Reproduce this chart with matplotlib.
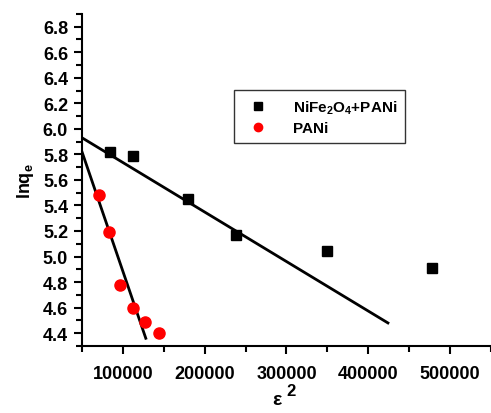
import matplotlib
matplotlib.use('Agg')
import matplotlib.pyplot as plt
from matplotlib.ticker import MultipleLocator

plt.rcParams['font.family'] = ['Liberation Sans', 'DejaVu Sans']
plt.rcParams['font.weight'] = 'bold'
plt.rcParams['mathtext.fontset'] = 'custom'
plt.rcParams['mathtext.bf'] = 'Liberation Sans:bold'
plt.rcParams['mathtext.rm'] = 'Liberation Sans:bold'

# NiFe2O4+PANi points
NIFE_X = [84000, 112000, 179000, 238000, 350000, 478000]
NIFE_Y = [5.82, 5.79, 5.45, 5.17, 5.04, 4.91]
# fitted line end points
NIFE_FIT_X = [50000, 424000]
NIFE_FIT_Y = [5.93, 4.48]

# PANi points
PANI_X = [71000, 83000, 97000, 112000, 127000, 144000]
PANI_Y = [5.48, 5.19, 4.78, 4.60, 4.49, 4.40]
PANI_FIT_X = [50000, 128000]
PANI_FIT_Y = [5.82, 4.36]

fig = plt.figure(figsize=(4.91, 4.14), dpi=100)
ax = fig.add_axes([0.167, 0.162, 0.833, 0.802])

ax.plot(NIFE_FIT_X, NIFE_FIT_Y, color='black', lw=2)
ax.plot(PANI_FIT_X, PANI_FIT_Y, color='black', lw=2)
ax.plot(NIFE_X, NIFE_Y, 's', color='black', ms=7.5, label='NiFe$_\\mathbf{2}$O$_\\mathbf{4}$+PANi')
ax.plot(PANI_X, PANI_Y, 'o', color='red', mec='red', ms=8, label='PANi')

ax.set_xlim(50000, 550000)
ax.set_ylim(4.3, 6.9)
ax.xaxis.set_major_locator(MultipleLocator(100000))
ax.xaxis.set_minor_locator(MultipleLocator(50000))
ax.yaxis.set_major_locator(MultipleLocator(0.2))
ax.yaxis.set_minor_locator(MultipleLocator(0.1))
ax.tick_params(which='major', direction='out', length=6, width=1.5, labelsize=13)
ax.tick_params(which='minor', direction='out', length=4, width=1.5)
ax.tick_params(axis='x', pad=8)
ax.tick_params(axis='y', pad=4)

for side in ['top', 'right']:
    ax.spines[side].set_visible(False)
for side in ['left', 'bottom']:
    ax.spines[side].set_linewidth(1.5)

for lab in ax.get_xticklabels() + ax.get_yticklabels():
    lab.set_fontweight('bold')

# x label: epsilon with a full size superscript 2
fig.text(0.563, 0.012, '\u03b5', fontsize=14, fontweight='bold', ha='center', va='bottom')
fig.text(0.592, 0.037, '2', fontsize=12, fontweight='bold', ha='center', va='bottom')
ax.set_ylabel('lnq$_\\mathbf{e}$', fontsize=13, fontweight='bold', labelpad=5)

leg = ax.legend(loc='upper left', bbox_to_anchor=(0.371, 0.77), frameon=True, fancybox=False,
                edgecolor='black', prop={'weight': 'bold', 'size': 11}, handletextpad=1.2,
                borderpad=0.5, labelspacing=0.35, borderaxespad=0, handlelength=2.2)
leg.get_frame().set_linewidth(1.0)
for h in leg.legend_handles:
    h.set_markersize(6)

fig.savefig('out.png', dpi=100)
